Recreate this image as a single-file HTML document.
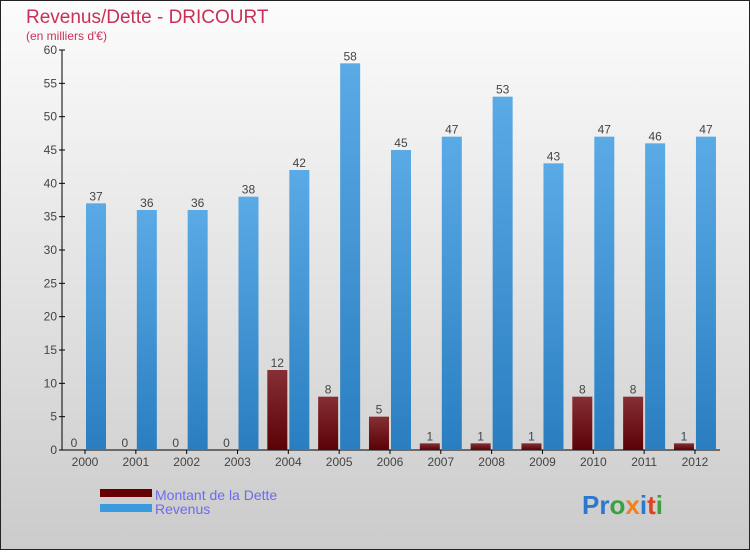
<!DOCTYPE html>
<html><head><meta charset="utf-8"><style>
html,body{margin:0;padding:0}
body{width:750px;height:550px;overflow:hidden;font-family:"Liberation Sans",sans-serif}
</style></head><body>
<svg id="chart" width="750" height="550" xmlns="http://www.w3.org/2000/svg">
<defs>
<linearGradient id="bg" x1="0" y1="0" x2="0" y2="1"><stop offset="0" stop-color="#fcfcfc"/><stop offset="1" stop-color="#cbcbcb"/></linearGradient>
<linearGradient id="gRev" x1="0" y1="0" x2="0" y2="1"><stop offset="0" stop-color="#5aaae6"/><stop offset="1" stop-color="#2a7ec0"/></linearGradient>
<linearGradient id="gDet" x1="0" y1="0" x2="0" y2="1"><stop offset="0" stop-color="#862f34"/><stop offset="1" stop-color="#5a0206"/></linearGradient>
</defs>
<rect x="0.5" y="0.5" width="749" height="549" fill="url(#bg)" stroke="#222"/>
<text x="26" y="23" font-size="19" fill="#c8305a">Revenus/Dette - DRICOURT</text>
<text x="26" y="40" font-size="12" fill="#c8305a">(en milliers d'€)</text>
<g id="axes"></g>
<g id="bars"></g>
<g>
<rect x="100" y="489" width="52" height="8" fill="#650006"/>
<text x="155" y="500" font-size="14" fill="#6b6bf0">Montant de la Dette</text>
<rect x="100" y="504" width="52" height="8" fill="#3a9ae0"/>
<text x="155" y="514" font-size="14" fill="#6b6bf0">Revenus</text>
</g>
<text x="582" y="514" font-size="26" font-weight="bold"><tspan fill="#2a78d0">Pr</tspan><tspan fill="#3aa040">o</tspan><tspan fill="#f08020">x</tspan><tspan fill="#2a78d0">i</tspan><tspan fill="#e04020">t</tspan><tspan fill="#3aa040">i</tspan></text>
</svg>
<script>
const years=["2000","2001","2002","2003","2004","2005","2006","2007","2008","2009","2010","2011","2012"];
const dette=[0,0,0,0,12,8,5,1,1,1,8,8,1];
const revenus=[37,36,36,38,42,58,45,47,53,43,47,46,47];
const yTicks=[0,5,10,15,20,25,30,35,40,45,50,55,60];
const NS="http://www.w3.org/2000/svg";
const y0=450,yTop=50,yMax=60,x0=62,xEnd=720;
const yS=v=>y0-(v/yMax)*(y0-yTop);
const xC=i=>85+i*50.83;
function mk(tag,attrs,parent){const e=document.createElementNS(NS,tag);for(const k in attrs)e.setAttribute(k,attrs[k]);parent.appendChild(e);return e;}
const axes=document.getElementById('axes'),bars=document.getElementById('bars');
yTicks.forEach(t=>{
 const l=mk('line',{x1:x0-3,x2:x0+3,y1:yS(t),y2:yS(t),stroke:'#000'},axes);
 
 
 const tx=mk('text',{x:x0-5,y:yS(t)+4,'font-size':12,'text-anchor':'end',fill:'#444'},axes);
 tx.textContent=t;
 
 
});
const ya=mk('line',{x1:x0,x2:x0,y1:yTop,y2:y0,stroke:'#000'},axes);


const xa=mk('line',{x1:x0,x2:xEnd,y1:y0,y2:y0,stroke:'#000'},axes);


years.forEach((yr,i)=>{
 const c=xC(i);
 const tk=mk('line',{x1:c,x2:c,y1:y0,y2:y0+4,stroke:'#000'},axes);
 
 
 const tx=mk('text',{x:c,y:466,'font-size':12,'text-anchor':'middle',fill:'#444'},axes);
 tx.textContent=yr;
 
 
 const d=dette[i],r=revenus[i];
 const bd=mk('rect',{x:c-21,y:yS(d),width:20,height:y0-yS(d),fill:'url(#gDet)'},bars);
 
 
 const ld=mk('text',{x:c-11,y:yS(d)-3,'font-size':12,'text-anchor':'middle',fill:'#444'},bars);
 ld.textContent=d;
 
 
 const br=mk('rect',{x:c+1,y:yS(r),width:20,height:y0-yS(r),fill:'url(#gRev)'},bars);
 
 
 const lr=mk('text',{x:c+11,y:yS(r)-3,'font-size':12,'text-anchor':'middle',fill:'#444'},bars);
 lr.textContent=r;
 
 
});
</script>
</body></html>
